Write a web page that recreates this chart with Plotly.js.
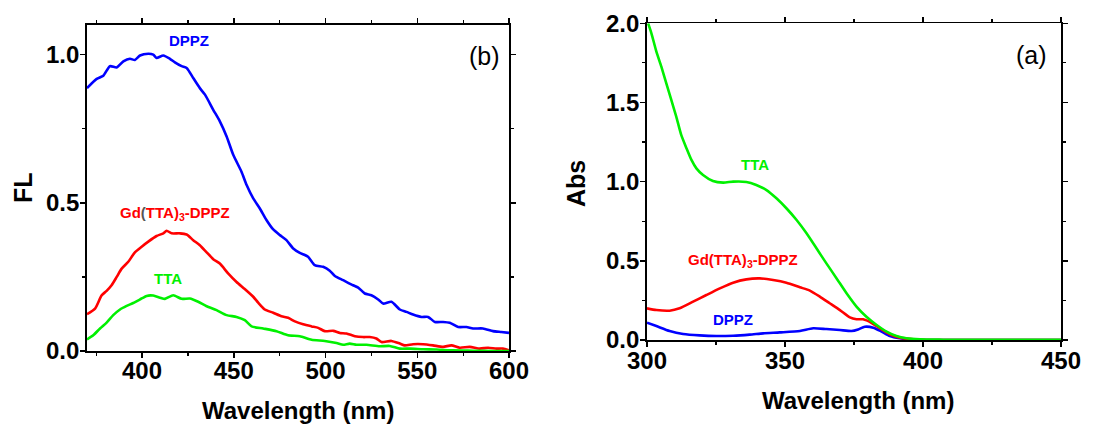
<!DOCTYPE html>
<html>
<head>
<meta charset="utf-8">
<script src="https://cdn.plot.ly/plotly-3.0.1.min.js"></script>
<style>
  html, body { margin: 0; padding: 0; background: #fff; }
  #chart { width: 1118px; height: 427px; }
</style>
</head>
<body>
<div id="chart"></div>
<script>
// (b) Fluorescence emission spectra
const flDppzX = [370,375.3,378.9,382.5,386.2,389.8,393.4,396.1,398.9,403.4,406.1,407.9,411.6,415.2,417.9,421.6,424.3,427.9,431.5,434.3,438.8,442.4,446.1,449.7,454.2,457.0,460.6,464.2,467.8,471.5,475.1,478.7,482.4,486.0,490.5,494.1,498.7,502.3,505.1,509.6,515.0,517.8,521.4,525.0,528.7,531.4,535.9,540.5,544.1,547.7,552.3,555.9,559.6,564.1,567.7,572.3,576.8,580.4,585.8,591.3,595.8,600];
const flDppzY = [0.887,0.918,0.929,0.961,0.957,0.977,0.986,0.982,0.997,1.003,1.0,0.989,0.997,0.986,0.974,0.961,0.955,0.921,0.887,0.865,0.814,0.775,0.724,0.662,0.605,0.560,0.515,0.481,0.442,0.410,0.391,0.374,0.346,0.331,0.318,0.290,0.284,0.271,0.253,0.239,0.222,0.214,0.194,0.188,0.174,0.160,0.166,0.140,0.132,0.123,0.115,0.115,0.098,0.098,0.095,0.081,0.081,0.076,0.076,0.067,0.064,0.061];

const flGdX = [370,374.4,378.0,380.7,383.4,386.2,388.9,392.5,396.1,399.8,403.4,407.9,411.6,413.4,416.1,420.6,424.3,427.9,431.5,435.2,438.8,442.4,446.9,451.5,456.0,460.6,463.3,466.9,471.5,476.0,479.6,483.3,487.8,492.4,496.0,499.6,504.2,507.8,511.4,516.0,520.5,524.1,527.7,530.5,535.9,540.5,543.2,547.7,553.2,558.6,564.1,568.6,573.2,578.6,584.0,588.6,593.1,596.7,600];
const flGdY = [0.124,0.143,0.188,0.203,0.222,0.250,0.278,0.301,0.333,0.352,0.369,0.388,0.397,0.406,0.397,0.397,0.393,0.374,0.357,0.333,0.310,0.295,0.262,0.233,0.209,0.183,0.163,0.140,0.129,0.117,0.112,0.100,0.090,0.083,0.078,0.067,0.068,0.061,0.059,0.050,0.047,0.047,0.042,0.030,0.034,0.025,0.019,0.023,0.023,0.019,0.014,0.019,0.011,0.014,0.008,0.011,0.008,0.008,0.002];

const flTtaX = [370,373.4,377.1,380.7,384.3,388.0,391.6,395.2,398.9,402.5,406.1,409.8,412.5,417.0,421.6,426.1,430.6,435.2,440.6,446.1,451.5,456.0,459.7,466.0,473.3,479.6,486.0,492.4,499.6,506.0,509.6,513.2,516.9,522.3,529.5,535.0,540.5,545.9,553.2,560.4,569.5,580.4,591.3,600];
const flTtaY = [0.039,0.053,0.076,0.096,0.121,0.140,0.152,0.162,0.174,0.186,0.187,0.180,0.176,0.188,0.176,0.177,0.166,0.151,0.138,0.121,0.115,0.104,0.083,0.076,0.067,0.053,0.050,0.038,0.034,0.027,0.021,0.025,0.021,0.021,0.016,0.017,0.008,0.008,0.006,0.005,0.002,0.001,0.0,0.0];

// (a) UV-Vis absorption spectra
const absTtaX = [300.4,301.6,303.4,305.2,307.0,308.8,310.6,312.4,314.3,316.1,317.9,320.3,323.9,327.6,331.2,336.0,339.6,343.3,346.9,350.5,354.2,357.8,361.4,365.0,368.7,372.3,375.9,379.5,383.2,386.8,390.4,394.0,398.9,407.3,425.5,450];
const absTtaY = [2.0,1.937,1.821,1.726,1.621,1.516,1.411,1.295,1.211,1.137,1.084,1.042,1.004,0.994,1.0,0.998,0.979,0.947,0.895,0.832,0.758,0.674,0.579,0.484,0.389,0.295,0.211,0.147,0.095,0.053,0.025,0.011,0.004,0.002,0.001,0.002];

const absGdX = [300,303.4,308.2,311.8,316.7,321.5,326.4,331.2,336.0,340.9,345.7,350.5,355.4,359.0,362.6,366.2,369.9,373.5,375.9,378.3,381.3,384.4,388.0,391.6,396.5,401.3,450];
const absGdY = [0.200,0.189,0.185,0.200,0.242,0.284,0.326,0.362,0.383,0.389,0.379,0.362,0.333,0.312,0.274,0.232,0.189,0.143,0.131,0.131,0.109,0.074,0.036,0.015,0.004,0.0,0.0];

const absDppzX = [300,303.4,308.2,313.1,319.1,325.1,331.2,337.2,342.1,348.1,355.4,360.2,365.0,369.9,374.1,376.5,378.9,382.0,385.0,388.0,391.6,396.5,401.3,450];
const absDppzY = [0.109,0.088,0.057,0.038,0.029,0.025,0.027,0.034,0.042,0.048,0.057,0.074,0.069,0.063,0.057,0.067,0.084,0.078,0.053,0.025,0.011,0.002,0.0,0.0];

const BLUE = '#0000ff', RED = '#ff0000', GREEN = '#00f000';
const FONT = 'Liberation Sans, Arial, Helvetica, sans-serif';

function curve(x, y, color, xa, ya) {
  return { x: x, y: y, xaxis: xa, yaxis: ya, mode: 'lines', type: 'scatter',
           line: { color: color, width: 2.6, shape: 'spline', smoothing: 0.6 },
           hoverinfo: 'skip', showlegend: false };
}

const traces = [
  curve(flDppzX, flDppzY, BLUE, 'x', 'y'),
  curve(flGdX, flGdY, RED, 'x', 'y'),
  curve(flTtaX, flTtaY, GREEN, 'x', 'y'),
  curve(absDppzX, absDppzY, BLUE, 'x2', 'y2'),
  curve(absGdX, absGdY, RED, 'x2', 'y2'),
  curve(absTtaX, absTtaY, GREEN, 'x2', 'y2')
];

const W = 1118, H = 427;
const px = v => v / W, py = v => 1 - v / H;

function axisBase(standoff) {
  return {
    showgrid: false, zeroline: false,
    showline: true, linecolor: '#000', linewidth: 1.8, mirror: 'allticks',
    ticks: 'outside', ticklen: 5, tickwidth: 1.5, tickcolor: '#000',
    ticklabelstandoff: standoff,
    tickfont: { family: FONT, size: 24, color: '#000', weight: 'bold' },
    fixedrange: true
  };
}
function minorTicks(tick0, dtick) {
  return { ticks: 'outside', ticklen: 3, tickwidth: 1.2, tickcolor: '#000', tick0: tick0, dtick: dtick };
}

const layout = {
  width: W, height: H,
  margin: { l: 0, r: 0, t: 0, b: 0 },
  paper_bgcolor: '#fff', plot_bgcolor: '#fff',
  xaxis: Object.assign(axisBase(-8), {
    domain: [px(87), px(509)], range: [370, 600],
    tick0: 400, dtick: 50, minor: minorTicks(375, 25), anchor: 'y'
  }),
  yaxis: Object.assign(axisBase(-4), {
    domain: [py(351), py(25)], range: [0, 1.1],
    tick0: 0, dtick: 0.5, tickformat: '.1f', minor: minorTicks(0, 0.25), anchor: 'x'
  }),
  xaxis2: Object.assign(axisBase(-7), {
    domain: [px(647), px(1061)], range: [300, 450],
    tick0: 300, dtick: 50, minor: minorTicks(300, 25), anchor: 'y2'
  }),
  yaxis2: Object.assign(axisBase(-4), {
    domain: [py(340), py(23.3)], range: [0, 2.0],
    tick0: 0, dtick: 0.5, tickformat: '.1f', minor: minorTicks(0, 0.25), anchor: 'x2'
  }),
  annotations: []
};

function note(text, x, y, size, color, weight, angle) {
  layout.annotations.push({
    text: text, xref: 'paper', yref: 'paper', x: px(x), y: py(y),
    xanchor: 'center', yanchor: 'middle', showarrow: false, textangle: angle || 0,
    font: { family: FONT, size: size, color: color, weight: weight }
  });
}

// axis titles
note('Wavelength (nm)', 298, 410, 24, '#000', 'bold');
note('Wavelength (nm)', 858, 400, 24, '#000', 'bold');
note('FL', 23, 188, 25, '#000', 'bold', -90);
note('Abs', 576, 184, 25, '#000', 'bold', -90);

// panel tags
note('(b)', 484, 56, 25, '#000', 'normal');
note('(a)', 1031, 55, 25, '#000', 'normal');

// curve labels, panel (b)
note('DPPZ', 189, 40, 15, BLUE, 'bold');
note('Gd<span style="color:#555">(</span>TTA)<sub>3</sub>-DPPZ', 175, 213, 15, RED, 'bold');
note('TTA', 168, 278, 15, GREEN, 'bold');

// curve labels, panel (a)
note('TTA', 755, 164, 15, GREEN, 'bold');
note('Gd(TTA)<sub>3</sub>-DPPZ', 743, 260, 15, RED, 'bold');
note('DPPZ', 733, 319, 15, BLUE, 'bold');

Plotly.newPlot('chart', traces, layout, { staticPlot: true, displayModeBar: false });
</script>
</body>
</html>
